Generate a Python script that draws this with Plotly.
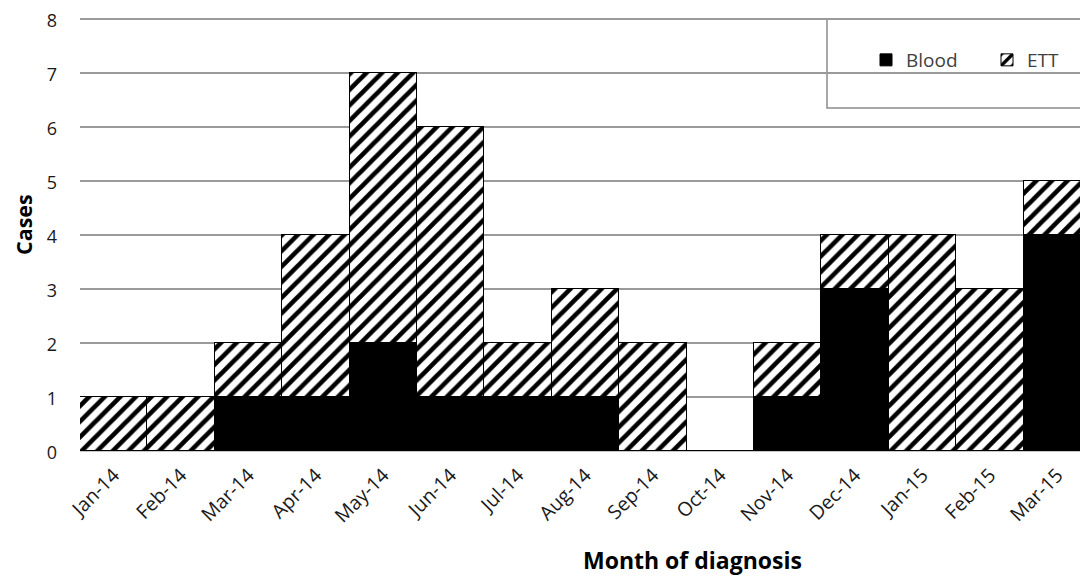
import plotly.graph_objects as go

months = ["Jan-14", "Feb-14", "Mar-14", "Apr-14", "May-14", "Jun-14", "Jul-14", "Aug-14",
          "Sep-14", "Oct-14", "Nov-14", "Dec-14", "Jan-15", "Feb-15", "Mar-15"]
blood = [0, 0, 1, 1, 2, 1, 1, 1, 0, 0, 1, 3, 0, 0, 4]
ett = [1, 1, 1, 3, 5, 5, 1, 2, 2, 0, 1, 1, 4, 3, 1]
y_ticks = [0, 1, 2, 3, 4, 5, 6, 7, 8]

W, H = 1088, 577
L, R, T, B = 72, 5, 9, 134
FONT = "Open Sans, Liberation Sans, sans-serif"
pw = W - L - R
ph = H - T - B
PX_PER_UNIT = 54.0
y_top = ph / PX_PER_UNIT  # value at top of plot area (slightly above 8)


def px_x(x):
    return (x - L) / pw


def px_y(y):
    return (H - B - y) / ph


fig = go.Figure()
fig.add_trace(go.Bar(
    x=months, y=blood, name="Blood",
    marker=dict(color="black", line=dict(color="black", width=1)),
))
fig.add_trace(go.Bar(
    x=months, y=ett, name="ETT",
    marker=dict(color="white", line=dict(color="black", width=1),
                pattern=dict(shape="/", fgcolor="black", bgcolor="white",
                             size=11, solidity=0.42, fillmode="replace")),
))

# legend box outline
fig.add_shape(type="rect", xref="paper", yref="y",
              x0=px_x(819), x1=1.05, y0=(H - B - 100) / PX_PER_UNIT, y1=8,
              line=dict(color="#8c8c8c", width=1.5), fillcolor="white", layer="below")

fig.add_annotation(text="<b>Month of diagnosis</b>", xref="paper", yref="paper",
                   x=px_x(684), y=px_y(552), xanchor="center", yanchor="middle",
                   showarrow=False, font=dict(size=23, color="black"))
fig.add_annotation(text="<b>Cases</b>", xref="paper", yref="paper",
                   x=px_x(15), y=px_y(217), xanchor="center", yanchor="middle", textangle=-90,
                   showarrow=False, borderpad=0, font=dict(size=21.5, color="black"))

fig.update_layout(
    width=W, height=H,
    margin=dict(l=L, r=R, t=T, b=B, autoexpand=False),
    barmode="stack", bargap=0,
    plot_bgcolor="white", paper_bgcolor="white",
    font=dict(family=FONT, size=18, color="#1a1a1a"),
    showlegend=True,
    legend=dict(orientation="h", x=px_x(858), y=px_y(52),
                xanchor="left", yanchor="middle", bgcolor="rgba(0,0,0,0)",
                font=dict(size=19, color="#404040"), itemwidth=30,
                traceorder="normal", entrywidth=76),
    xaxis=dict(
        range=[-0.5, 14.5], tickangle=-45, showgrid=False, showline=False,
        ticks="", ticklabelstandoff=8, tickfont=dict(size=19.5, color="#1a1a1a"),
    ),
    yaxis=dict(
        range=[0, y_top], tickvals=y_ticks, showgrid=True, gridcolor="#9a9a9a", gridwidth=1.5,
        zeroline=True, zerolinecolor="#c8c8c8", zerolinewidth=2, ticklabeloverflow="allow",
        ticks="", ticklabelstandoff=22, ticklabelshift=2,
        tickfont=dict(size=18, color="#1a1a1a"),
    ),
)

fig.write_html("out.html")
